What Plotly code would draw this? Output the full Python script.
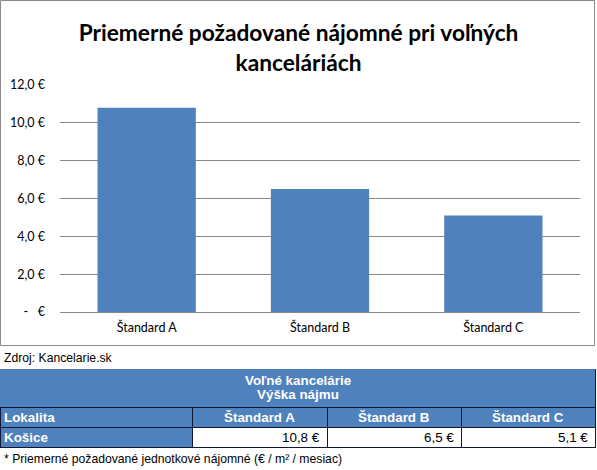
import plotly.graph_objects as go

# ---- data ----
categories = ["Štandard A", "Štandard B", "Štandard C"]
values = [10.8, 6.5, 5.1]
tick_vals = [0, 2, 4, 6, 8, 10, 12]
tick_text = ["-\u00a0\u00a0\u00a0€", "2,0 €", "4,0 €", "6,0 €", "8,0 €", "10,0 €", "12,0 €"]
title_text = "Priemerné požadované nájomné pri voľných<br>kanceláriách"
source_text = "Zdroj: Kancelarie.sk"
table_title_lines = ["Voľné kancelárie", "Výška nájmu"]
table_first_col = "Lokalita"
row_label = "Košice"
footnote = "* Priemerné požadované jednotkové nájomné (€ / m² / mesiac)"

W, H = 597, 470
BLUE = "#4F81BD"
LINE = "#10183a"
TFONT = "Liberation Sans, Arial"
TSIZE = 13.4


def px(x):
    return x / W


def py(y):
    return 1 - y / H


fig = go.Figure()
fig.add_trace(go.Bar(
    x=categories, y=values, width=0.567,
    marker=dict(color=BLUE, line=dict(width=0)),
    hoverinfo="skip",
))

value_text = [f"{v:.1f} €".replace(".", ",") for v in values]

# table layout (pixels)
col_edges = [0, 192, 327, 461, 595]
top_y, head_y, row_y, bot_y = 369, 407, 427, 447

shapes = [
    # chart border
    dict(type="rect", xref="paper", yref="paper",
         x0=px(0.5), x1=px(594.5), y0=py(345.5), y1=py(0.5),
         line=dict(color="#8a8a8a", width=1), fillcolor="rgba(0,0,0,0)"),
    # blue header block (merged title + column header row)
    dict(type="rect", xref="paper", yref="paper",
         x0=0, x1=px(595), y0=py(row_y), y1=py(top_y),
         line=dict(width=0), fillcolor=BLUE),
    # first cell of data row (blue)
    dict(type="rect", xref="paper", yref="paper",
         x0=0, x1=px(col_edges[1]), y0=py(bot_y), y1=py(row_y),
         line=dict(width=0), fillcolor=BLUE),
]
# horizontal borders
for yy in (head_y, row_y, bot_y):
    shapes.append(dict(type="line", xref="paper", yref="paper",
                       x0=0, x1=px(596), y0=py(yy + 0.5), y1=py(yy + 0.5),
                       line=dict(color=LINE, width=1)))
# vertical borders
for i, xx in enumerate(col_edges):
    y_start = top_y if i == len(col_edges) - 1 else head_y
    shapes.append(dict(type="line", xref="paper", yref="paper",
                       x0=px(xx + 0.5), x1=px(xx + 0.5),
                       y0=py(bot_y + 0.5), y1=py(y_start),
                       line=dict(color=LINE, width=1)))

annotations = [
    dict(text=source_text, xref="paper", yref="paper", x=px(2), y=py(358),
         xanchor="left", yanchor="middle", showarrow=False,
         font=dict(family=TFONT, size=12.2, color="black")),
    dict(text=footnote, xref="paper", yref="paper", x=px(2), y=py(459),
         xanchor="left", yanchor="middle", showarrow=False,
         font=dict(family=TFONT, size=12.2, color="black")),
    dict(text=f"<b>{table_title_lines[0]}</b>", xref="paper", yref="paper",
         x=px(298), y=py(380), xanchor="center", yanchor="middle", showarrow=False,
         font=dict(family=TFONT, size=TSIZE, color="white")),
    dict(text=f"<b>{table_title_lines[1]}</b>", xref="paper", yref="paper",
         x=px(298), y=py(394), xanchor="center", yanchor="middle", showarrow=False,
         font=dict(family=TFONT, size=TSIZE, color="white")),
    dict(text=f"<b>{table_first_col}</b>", xref="paper", yref="paper",
         x=px(2), y=py(417.5), xanchor="left", yanchor="middle", showarrow=False,
         font=dict(family=TFONT, size=TSIZE, color="white")),
    dict(text=f"<b>{row_label}</b>", xref="paper", yref="paper",
         x=px(2), y=py(437.5), xanchor="left", yanchor="middle", showarrow=False,
         font=dict(family=TFONT, size=TSIZE, color="white")),
]
for i, (cat, vt) in enumerate(zip(categories, value_text)):
    x0, x1 = col_edges[i + 1], col_edges[i + 2]
    annotations.append(dict(text=f"<b>{cat}</b>", xref="paper", yref="paper",
                            x=px((x0 + x1) / 2), y=py(417.5), xanchor="center",
                            yanchor="middle", showarrow=False,
                            font=dict(family=TFONT, size=TSIZE, color="white")))
    annotations.append(dict(text=vt, xref="paper", yref="paper",
                            x=px(x1 - 5), y=py(437.5), xanchor="right",
                            yanchor="middle", showarrow=False,
                            font=dict(family=TFONT, size=TSIZE, color="black")))

fig.update_layout(
    width=W, height=H,
    margin=dict(l=0, r=0, t=0, b=0, pad=0),
    paper_bgcolor="white", plot_bgcolor="white",
    showlegend=False,
    title=dict(text=title_text, x=0.5, xanchor="center",
               y=py(41), yanchor="middle", yref="container", automargin=False,
               font=dict(family="Lato", size=22.7, color="black", weight="bold")),
    xaxis=dict(domain=[px(60), px(580)], showgrid=False, showline=False,
               zeroline=False, ticks="", ticklabelstandoff=6, automargin=False,
               tickfont=dict(family="Lato", size=12.5, color="black")),
    yaxis=dict(domain=[py(312), py(85)], range=[0, 12], tickvals=tick_vals,
               ticktext=tick_text, showgrid=True, gridcolor="#868686", gridwidth=1,
               zeroline=True, zerolinecolor="#868686", zerolinewidth=1,
               showline=False, ticks="", ticklabelstandoff=14, automargin=False,
               tickfont=dict(family="Lato", size=12.5, color="black")),
    shapes=shapes,
    annotations=annotations,
)

fig.write_html("out.html")
